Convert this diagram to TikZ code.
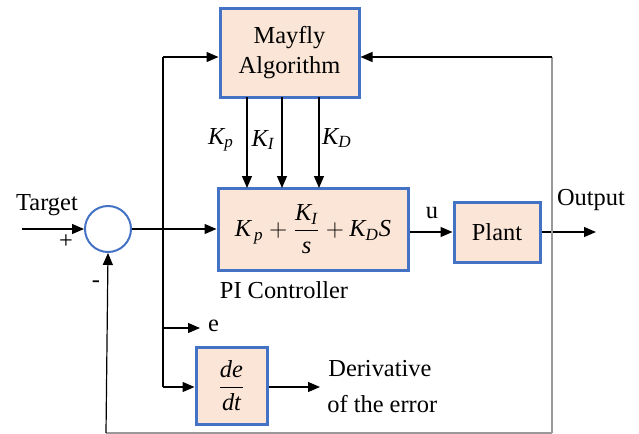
\documentclass[tikz,border=0pt]{standalone}
\usepackage{fontspec}
\usepackage{amsmath}
\setmainfont{Liberation Serif}[Ligatures=TeX]
\usetikzlibrary{arrows.meta,calc}
\newcommand{\ti}[1]{\textit{#1}}
\begin{document}
\begin{tikzpicture}[x=0.5pt,y=-0.5pt,
  font=\rmfamily\fontsize{12.2}{15}\selectfont,
  blk/.style={draw=boxblue, line width=1.5pt, fill=peach, inner sep=0pt, align=center},
  conn/.style={line width=0.6pt, draw=black},
  arr/.style={conn, -{Triangle[length=6pt,width=5pt]}},
  gry/.style={line width=0.7pt, draw=gray!80}]
\definecolor{boxblue}{HTML}{4472C4}
\definecolor{peach}{HTML}{FBE5D6}
\useasboundingbox (0,0) rectangle (639,434);

% blocks
\node[blk, minimum width=69.5pt, minimum height=44.5pt] (may) at (289.5,52.5) {Mayfly\\Algorithm};
\node[blk, minimum width=95pt, minimum height=41pt] (pid) at (313,229)
  {$\ti{K}_{\,\ti{p}} + \dfrac{\ti{K}_{\ti{I}}}{\ti{s}} + \ti{K}_{\ti{D}}\ti{S}$};
\node[blk, minimum width=43pt, minimum height=30pt] (plant) at (497,232) {Plant};
\node[blk, minimum width=35.5pt, minimum height=38.5pt] (ddt) at (231.5,385.5) {$\dfrac{\ti{de}}{\ti{dt}}$};
\node[circle, draw=boxblue, line width=1pt, minimum size=23pt, inner sep=0pt] (sum) at (108,229) {};

% coordinates
\coordinate (tin) at (22,229);
\coordinate (jtop) at (163,57);
\coordinate (je) at (163,328);
\coordinate (jd) at (163,387);
\coordinate (eend) at (200,328);
\coordinate (dend) at (320,387);
\coordinate (oend) at (596,232);
\coordinate (rtop) at (552,57);
\coordinate (rbot) at (552,433);
\coordinate (lbot) at (106,433);

% connectors
\draw[arr] (tin) -- (sum.west);
\draw[arr] (sum.east) -- (pid.west);
\draw[conn] (jd) -- (jtop);
\draw[arr] (jtop) -- (jtop -| may.west);
\draw[arr] (je) -- (eend);
\draw[arr] (jd) -- (jd -| ddt.west);
\draw[arr] (ddt.east |- dend) -- (dend);
\foreach \xx in {247,282,319}
  \draw[arr] (\xx,97) -- (\xx,188);
\draw[arr] (pid.east |- plant.west) -- (plant.west);
\draw[arr] (plant.east) -- (oend);
\draw[gry] (rbot) -- (rtop);
\draw[arr] (rtop) -- (rtop -| may.east);
\draw[gry] (rbot) -- (lbot);
\draw[arr] (lbot) -- (sum.south);

% labels
\node (lkp) at (221,140) {$\ti{K}_{\ti{p}}$};
\node (lki) at (263,140) {$\ti{K}_{\ti{I}}$};
\node (lkd) at (337,138) {$\ti{K}_{\ti{D}}$};
\node (ltarget) at (47,205) {Target};
\node (lplus) at (66,242) {+};
\node (lminus) at (96,284) {-};
\node (lu) at (432,213) {u};
\node (lout) at (591,200) {Output};
\node (lpi) at (284,290) {PI Controller};
\node[anchor=west] (le) at (201,326) {e};
\node[anchor=west, inner sep=0pt] (lder) at (328,369) {Derivative};
\node[anchor=west, inner sep=0pt] (lerr) at (327,404) {of the error};
\end{tikzpicture}
\end{document}
